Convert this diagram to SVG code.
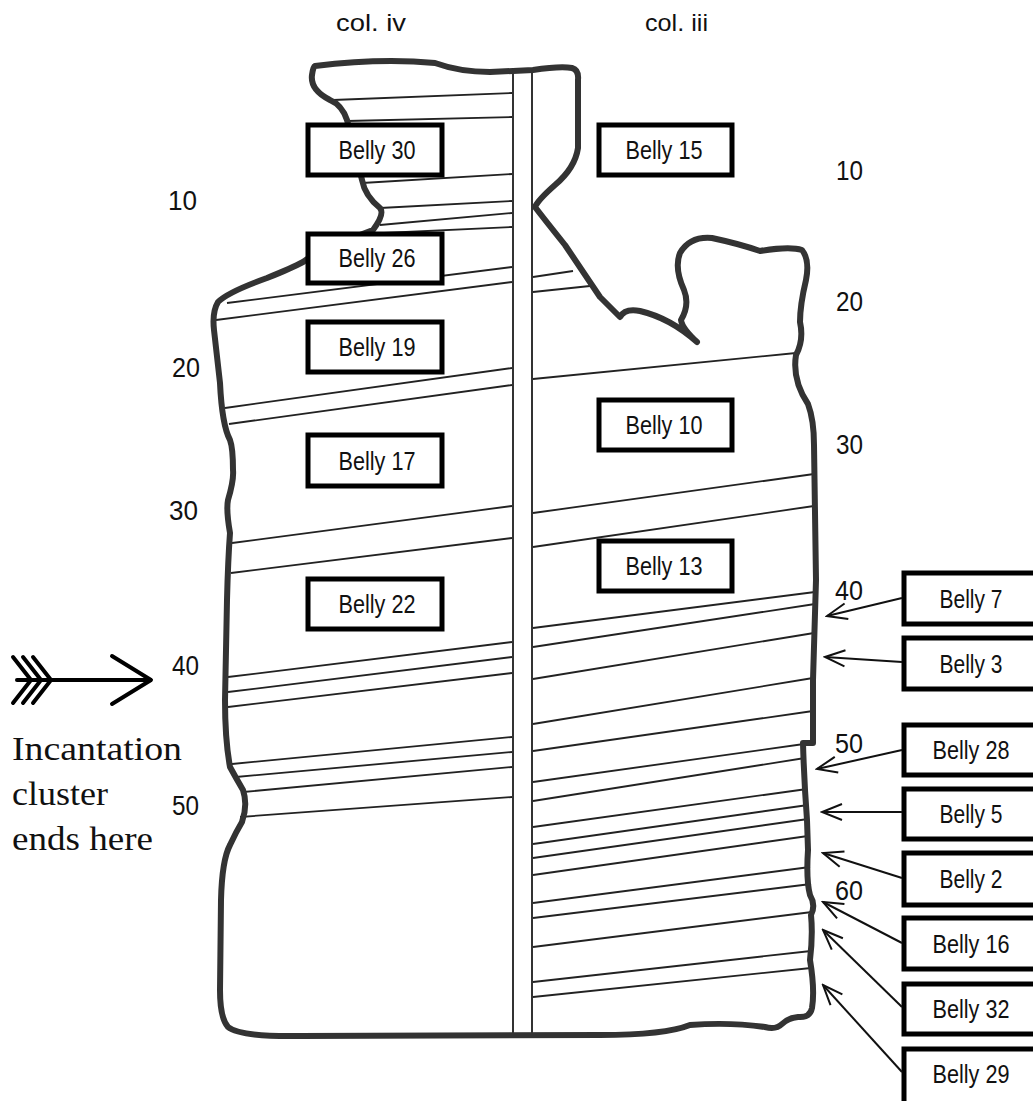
<svg xmlns="http://www.w3.org/2000/svg" width="1033" height="1101" viewBox="0 0 1033 1101">
<style>
.ln{stroke:#222;stroke-width:1.8;fill:none}
.col{stroke:#333;stroke-width:2;fill:none}
.outline{stroke:#333;stroke-width:6;fill:none;stroke-linejoin:round;stroke-linecap:round}
.box{fill:#fff;stroke:#000;stroke-width:5}
.bt{font-family:"Liberation Sans",Arial,sans-serif;font-size:25px;fill:#111;text-anchor:middle}
.num{font-family:"Liberation Sans",Arial,sans-serif;font-size:28px;fill:#111}
.hd{font-family:"Liberation Sans",Arial,sans-serif;font-size:24px;fill:#111}
.ser{font-family:"Liberation Serif","Times New Roman",serif;font-size:33px;fill:#111}
.arr{stroke:#111;stroke-width:2;fill:none}
.big{stroke:#000;stroke-width:4;fill:none;stroke-linecap:round;stroke-linejoin:round}
</style>
<defs>
<marker id="ah" viewBox="-22 -10 24 20" refX="0" refY="0" markerWidth="24" markerHeight="20" markerUnits="userSpaceOnUse" orient="auto">
<path d="M-20,-8 L0,0 L-20,8" fill="none" stroke="#111" stroke-width="2"/>
</marker>
</defs>
<rect width="1033" height="1101" fill="#fff"/>
<g id="ruling">
<line class="ln" x1="333" y1="100" x2="512" y2="93"/>
<line class="ln" x1="347" y1="121" x2="512" y2="117"/>
<line class="ln" x1="362" y1="183" x2="512" y2="174"/>
<line class="ln" x1="380" y1="208" x2="512" y2="201"/>
<line class="ln" x1="380" y1="225" x2="512" y2="213"/>
<line class="ln" x1="340" y1="235" x2="512" y2="227"/>
<line class="ln" x1="227" y1="303" x2="512" y2="267"/>
<line class="ln" x1="216" y1="320" x2="512" y2="282"/>
<line class="ln" x1="225" y1="408" x2="512" y2="368"/>
<line class="ln" x1="229" y1="424" x2="512" y2="385"/>
<line class="ln" x1="232" y1="543" x2="512" y2="506"/>
<line class="ln" x1="231" y1="573" x2="512" y2="538"/>
<line class="ln" x1="228" y1="677" x2="512" y2="642"/>
<line class="ln" x1="228" y1="692" x2="512" y2="657"/>
<line class="ln" x1="228" y1="707" x2="512" y2="673"/>
<line class="ln" x1="232" y1="764" x2="512" y2="737"/>
<line class="ln" x1="236" y1="777" x2="512" y2="752"/>
<line class="ln" x1="243" y1="792" x2="512" y2="767"/>
<line class="ln" x1="240" y1="817" x2="512" y2="797"/>
<line class="ln" x1="533" y1="277" x2="573" y2="271"/>
<line class="ln" x1="533" y1="292" x2="590" y2="286"/>
<line class="ln" x1="533" y1="379" x2="796" y2="353"/>
<line class="ln" x1="533" y1="513" x2="814" y2="474"/>
<line class="ln" x1="533" y1="547" x2="814" y2="506"/>
<line class="ln" x1="533" y1="628" x2="815" y2="592"/>
<line class="ln" x1="533" y1="647" x2="815" y2="604"/>
<line class="ln" x1="533" y1="679" x2="814" y2="633"/>
<line class="ln" x1="533" y1="724" x2="813" y2="678"/>
<line class="ln" x1="533" y1="751" x2="813" y2="711"/>
<line class="ln" x1="533" y1="782" x2="804" y2="744"/>
<line class="ln" x1="533" y1="801" x2="805" y2="758"/>
<line class="ln" x1="533" y1="827" x2="807" y2="789"/>
<line class="ln" x1="533" y1="844" x2="808" y2="805"/>
<line class="ln" x1="533" y1="858" x2="808" y2="819"/>
<line class="ln" x1="533" y1="875" x2="808" y2="836"/>
<line class="ln" x1="533" y1="903" x2="810" y2="867"/>
<line class="ln" x1="533" y1="918" x2="811" y2="884"/>
<line class="ln" x1="533" y1="947" x2="812" y2="912"/>
<line class="ln" x1="533" y1="982" x2="811" y2="951"/>
<line class="ln" x1="533" y1="997" x2="811" y2="968"/>
<line class="col" x1="513" y1="71" x2="513" y2="1035"/>
<line class="col" x1="532" y1="70" x2="532" y2="1035"/>
</g>
<g id="fragment-outline">
<path class="outline" d="M315,66 Q380,58 435,63 Q460,72 490,72 L533,70 Q560,66 572,68 Q579,70 578,80 L578,148 Q575,168 555,185 Q538,200 535,207 Q545,220 565,245 L600,297 L620,317 Q625,308 640,311 Q670,318 697,342 Q682,328 681,320 Q690,305 684,290 Q674,268 680,253 Q690,236 712,238 Q740,244 760,251 Q790,246 802,250 Q810,260 806,280 Q800,305 800,322 Q804,340 796,355 Q792,380 808,404 Q814,420 814,445 L816,580 L813,680 L813,743 L803,743 Q804,780 807,820 L808,850 Q806,880 810,895 Q816,905 811,915 Q813,935 810,960 Q815,990 812,1008 Q810,1018 798,1017 Q788,1018 782,1024 Q776,1030 765,1027 Q730,1022 690,1025 Q665,1035 600,1035 L300,1036 Q240,1037 228,1027 Q220,1018 220,990 L221,900 Q222,860 230,845 Q236,832 242,822 Q248,805 243,790 Q236,778 230,767 Q225,740 225,700 L227,600 Q228,560 230,533 Q226,510 228,500 Q234,480 233,470 Q233,448 230,440 Q222,425 220,383 L214,330 Q212,312 218,302 Q228,292 267,278 Q292,268 303,262 L320,250 L373,230 Q385,214 380,208 Q365,196 362,180 L355,150 L347,120 Q342,105 330,100 Q310,90 312,75 Q313,67 315,66 Z"/>
</g>
<g id="headers">
<text class="hd" x="336" y="31" textLength="70" lengthAdjust="spacingAndGlyphs">col. iv</text>
<text class="hd" x="645" y="31" textLength="63" lengthAdjust="spacingAndGlyphs">col. iii</text>
</g>
<g id="line-numbers">
<text class="num" x="168" y="210" textLength="29" lengthAdjust="spacingAndGlyphs">10</text>
<text class="num" x="172" y="377" textLength="28" lengthAdjust="spacingAndGlyphs">20</text>
<text class="num" x="169" y="520" textLength="29" lengthAdjust="spacingAndGlyphs">30</text>
<text class="num" x="172" y="675" textLength="27" lengthAdjust="spacingAndGlyphs">40</text>
<text class="num" x="172" y="815" textLength="27" lengthAdjust="spacingAndGlyphs">50</text>
<text class="num" x="836" y="180" textLength="27" lengthAdjust="spacingAndGlyphs">10</text>
<text class="num" x="836" y="311" textLength="27" lengthAdjust="spacingAndGlyphs">20</text>
<text class="num" x="836" y="454" textLength="27" lengthAdjust="spacingAndGlyphs">30</text>
<text class="num" x="835" y="600" textLength="28" lengthAdjust="spacingAndGlyphs">40</text>
<text class="num" x="835" y="753" textLength="28" lengthAdjust="spacingAndGlyphs">50</text>
<text class="num" x="835" y="900" textLength="28" lengthAdjust="spacingAndGlyphs">60</text>
</g>
<g id="belly30"><rect class="box" x="308" y="125" width="134" height="50"/><text class="bt" x="377" y="159" textLength="77" lengthAdjust="spacingAndGlyphs">Belly 30</text></g>
<g id="belly26"><rect class="box" x="308" y="234" width="134" height="49"/><text class="bt" x="377" y="267" textLength="77" lengthAdjust="spacingAndGlyphs">Belly 26</text></g>
<g id="belly19"><rect class="box" x="308" y="322" width="134" height="50"/><text class="bt" x="377" y="356" textLength="77" lengthAdjust="spacingAndGlyphs">Belly 19</text></g>
<g id="belly17"><rect class="box" x="308" y="435" width="134" height="51"/><text class="bt" x="377" y="470" textLength="77" lengthAdjust="spacingAndGlyphs">Belly 17</text></g>
<g id="belly22"><rect class="box" x="308" y="579" width="134" height="50"/><text class="bt" x="377" y="613" textLength="77" lengthAdjust="spacingAndGlyphs">Belly 22</text></g>
<g id="belly15"><rect class="box" x="599" y="125" width="133" height="50"/><text class="bt" x="664" y="159" textLength="77" lengthAdjust="spacingAndGlyphs">Belly 15</text></g>
<g id="belly10"><rect class="box" x="599" y="400" width="133" height="50"/><text class="bt" x="664" y="434" textLength="77" lengthAdjust="spacingAndGlyphs">Belly 10</text></g>
<g id="belly13"><rect class="box" x="599" y="541" width="133" height="50"/><text class="bt" x="664" y="575" textLength="77" lengthAdjust="spacingAndGlyphs">Belly 13</text></g>
<g id="belly7"><rect class="box" x="904" y="573" width="140" height="51"/><text class="bt" x="971" y="608" textLength="63" lengthAdjust="spacingAndGlyphs">Belly 7</text></g>
<g id="belly3"><rect class="box" x="904" y="638" width="140" height="51"/><text class="bt" x="971" y="673" textLength="63" lengthAdjust="spacingAndGlyphs">Belly 3</text></g>
<g id="belly28"><rect class="box" x="904" y="725" width="140" height="50"/><text class="bt" x="971" y="759" textLength="77" lengthAdjust="spacingAndGlyphs">Belly 28</text></g>
<g id="belly5"><rect class="box" x="904" y="789" width="140" height="50"/><text class="bt" x="971" y="823" textLength="63" lengthAdjust="spacingAndGlyphs">Belly 5</text></g>
<g id="belly2"><rect class="box" x="904" y="853" width="140" height="52"/><text class="bt" x="971" y="888" textLength="63" lengthAdjust="spacingAndGlyphs">Belly 2</text></g>
<g id="belly16"><rect class="box" x="904" y="918" width="140" height="51"/><text class="bt" x="971" y="953" textLength="77" lengthAdjust="spacingAndGlyphs">Belly 16</text></g>
<g id="belly32"><rect class="box" x="904" y="984" width="140" height="50"/><text class="bt" x="971" y="1018" textLength="77" lengthAdjust="spacingAndGlyphs">Belly 32</text></g>
<g id="belly29"><rect class="box" x="904" y="1049" width="140" height="60"/><text class="bt" x="971" y="1083" textLength="77" lengthAdjust="spacingAndGlyphs">Belly 29</text></g>
<g id="connectors">
<line class="arr" x1="902" y1="598" x2="827" y2="616" marker-end="url(#ah)"/>
<line class="arr" x1="902" y1="662" x2="825" y2="657" marker-end="url(#ah)"/>
<line class="arr" x1="902" y1="750" x2="817" y2="769" marker-end="url(#ah)"/>
<line class="arr" x1="902" y1="812" x2="822" y2="812" marker-end="url(#ah)"/>
<line class="arr" x1="902" y1="878" x2="823" y2="853" marker-end="url(#ah)"/>
<line class="arr" x1="902" y1="943" x2="823" y2="902" marker-end="url(#ah)"/>
<line class="arr" x1="902" y1="1007" x2="823" y2="930" marker-end="url(#ah)"/>
<line class="arr" x1="902" y1="1072" x2="823" y2="985" marker-end="url(#ah)"/>
</g>
<g id="incantation-marker">
<line class="big" x1="17" y1="680" x2="150" y2="680"/>
<polyline class="big" points="112,656 151,680 112,704"/>
<polyline class="big" points="13,657 31,680 13,703"/>
<polyline class="big" points="23,657 41,680 23,703"/>
<polyline class="big" points="33,657 51,680 33,703"/>
<text class="ser" x="12" y="760" textLength="170" lengthAdjust="spacingAndGlyphs">Incantation</text>
<text class="ser" x="12" y="805" textLength="96" lengthAdjust="spacingAndGlyphs">cluster</text>
<text class="ser" x="12" y="850" textLength="141" lengthAdjust="spacingAndGlyphs">ends here</text>
</g>
</svg>
